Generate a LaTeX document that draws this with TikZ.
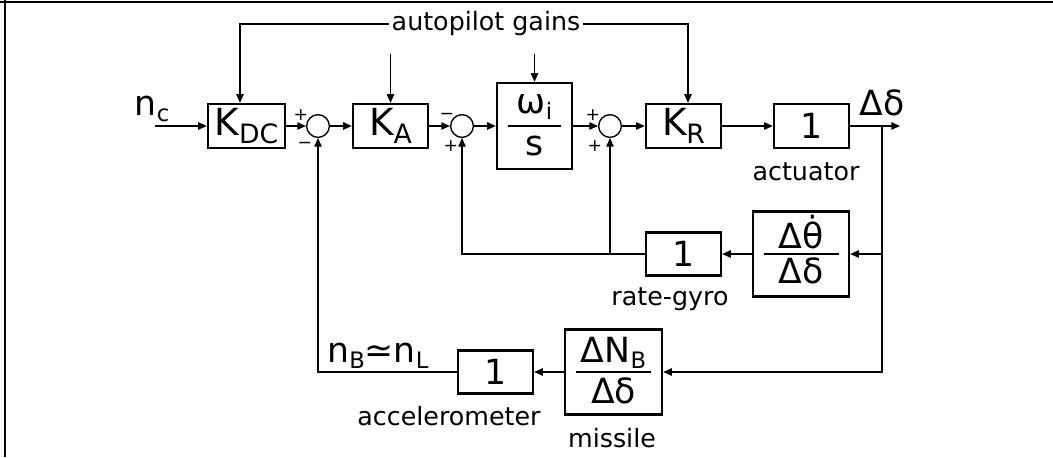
\documentclass[tikz,border=0pt]{standalone}
\usepackage{fontspec}
\setmainfont{DejaVu Sans}
\usetikzlibrary{arrows.meta,calc}
\newcommand{\bigtxt}{\fontsize{26}{30}\selectfont}
\newcommand{\ktxt}{\fontsize{28}{32}\selectfont}
\newcommand{\smtxt}{\fontsize{19}{22}\selectfont}
\newcommand{\sgntxt}{\fontsize{13}{15}\selectfont}
\newcommand{\subsc}[1]{\raisebox{-5pt}{\fontsize{17}{19}\selectfont #1}}
\newcommand{\ksub}[1]{\raisebox{-6pt}{\fontsize{20}{22}\selectfont #1}}
\begin{document}
\begin{tikzpicture}[x=0.75pt,y=-0.75pt,
  blk/.style={draw,line width=1.7pt,rectangle,inner sep=0pt,font=\bigtxt},
  kblk/.style={blk,font=\ktxt},
  sumc/.style={draw,circle,line width=1pt,minimum size=17pt,inner sep=0pt},
  ln/.style={line width=1.05pt},
  arr/.style={ln,-{Triangle[length=6.5pt,width=5.5pt]}},
  lbl/.style={font=\smtxt,inner sep=0pt,anchor=base},
  ftxt/.style={font=\bigtxt,inner sep=0pt,anchor=base},
  sgn/.style={font=\sgntxt,inner sep=0pt}]
\useasboundingbox (0,0) rectangle (1053,457);
% frame lines
\draw[line width=1.5pt] (0,1.5) -- (1053,1.5);
\draw[line width=1.5pt] (5,0) -- (5,457);
% blocks
\node[kblk,minimum width=57.75pt,minimum height=33pt] (KDC) at (246.5,126) {K\ksub{DC}};
\node[sumc] (s1) at (318,126) {};
\node[kblk,minimum width=56.25pt,minimum height=33pt] (KA) at (390.5,126) {K\ksub{A}};
\node[sumc] (s2) at (462,126) {};
\node[blk,minimum width=56.25pt,minimum height=64.5pt] (wis) at (534.5,126) {};
\node[sumc] (s3) at (610,126) {};
\node[kblk,minimum width=56.25pt,minimum height=33pt] (KR) at (683.5,126) {K\ksub{R}};
\node[blk,minimum width=56.25pt,minimum height=33pt] (act) at (811.5,126) {1};
\node[blk,minimum width=72pt,minimum height=63.75pt] (dth) at (801,254) {};
\node[blk,minimum width=56.25pt,minimum height=32.25pt] (rg) at (683.5,254) {1};
\node[blk,minimum width=72.75pt,minimum height=63.75pt] (mis) at (613.5,372) {};
\node[blk,minimum width=56.25pt,minimum height=32.25pt] (acc) at (495.5,372) {1};
% fractions
\node[ftxt] (wisn) at (534.5,113) {ω\subsc{i}};
\node[ftxt] (wisd) at (534.5,155) {s};
\draw[ln] ($(wis.center)+(-26.5,0)$) -- ($(wis.center)+(26.5,0)$);
\node[ftxt] (dthn) at (801,248) {Δθ̇};
\node[ftxt] (dthd) at (801,283) {Δδ};
\draw[ln] ($(dth.center)+(-37.5,0)$) -- ($(dth.center)+(37.5,0)$);
\node[ftxt] (misn) at (613.5,362) {ΔN\subsc{B}};
\node[ftxt] (misd) at (613.5,403) {Δδ};
\draw[ln] ($(mis.center)+(-37.5,0)$) -- ($(mis.center)+(37.5,0)$);
% labels
\node[lbl,inner xsep=2pt] (apg) at (486,30) {autopilot gains};
\node[lbl] (actl) at (806,180) {actuator};
\node[lbl] (rgl) at (670,305) {rate-gyro};
\node[lbl] (accl) at (449,425) {accelerometer};
\node[lbl] (misl) at (612,447) {missile};
\node[ftxt] (nbl) at (378,362) {n\subsc{B}≃n\subsc{L}};
\node[ftxt] (ddl) at (882,115) {Δδ};
\node[ftxt] (ncl) at (152,115) {n\subsc{c}};
% signs
\node[sgn] (p1a) at (301,115) {+};
\node[sgn] (p1b) at (305,145) {−};
\node[sgn] (p2a) at (447,116) {−};
\node[sgn] (p2b) at (451,146) {+};
\node[sgn] (p3a) at (593,115) {+};
\node[sgn] (p3b) at (595,146) {+};
% forward path
\coordinate (in) at (155,126);
\draw[arr] (in) -- (KDC.west);
\draw[arr] (KDC.east) -- (s1.west);
\draw[arr] (s1.east) -- (KA.west);
\draw[arr] (KA.east) -- (s2.west);
\draw[arr] (s2.east) -- (wis.west);
\draw[arr] (wis.east) -- (s3.west);
\draw[arr] (s3.east) -- (KR.west);
\draw[arr] (KR.east) -- (act.west);
\coordinate (out) at (900,126);
\draw[arr] (act.east) -- (out);
% feedback
\coordinate (br) at (882,126);
\coordinate (bg) at (882,254);
\draw[arr] (br) |- (mis.east);
\draw[arr] (bg) -- (dth.east);
\draw[arr] (dth.west) -- (rg.east);
\draw[arr] (rg.west) -| (s2.south);
\coordinate (j3) at (610,254);
\draw[arr] (j3) -- (s3.south);
\draw[arr] (mis.west) -- (acc.east);
\draw[arr] (acc.west) -| (s1.south);
% gains
\coordinate (g1) at (240,24);
\coordinate (g4) at (688,24);
\draw[arr] (g1 -| apg.west) -- (g1) -- (g1 |- KDC.north);
\draw[arr] (g4 -| apg.east) -- (g4) -- (g4 |- KR.north);
\coordinate (g2) at (390.5,54);
\draw[arr] (g2) -- (KA.north);
\coordinate (g3) at (534.5,54);
\draw[arr] (g3) -- (wis.north);
\end{tikzpicture}
\end{document}
